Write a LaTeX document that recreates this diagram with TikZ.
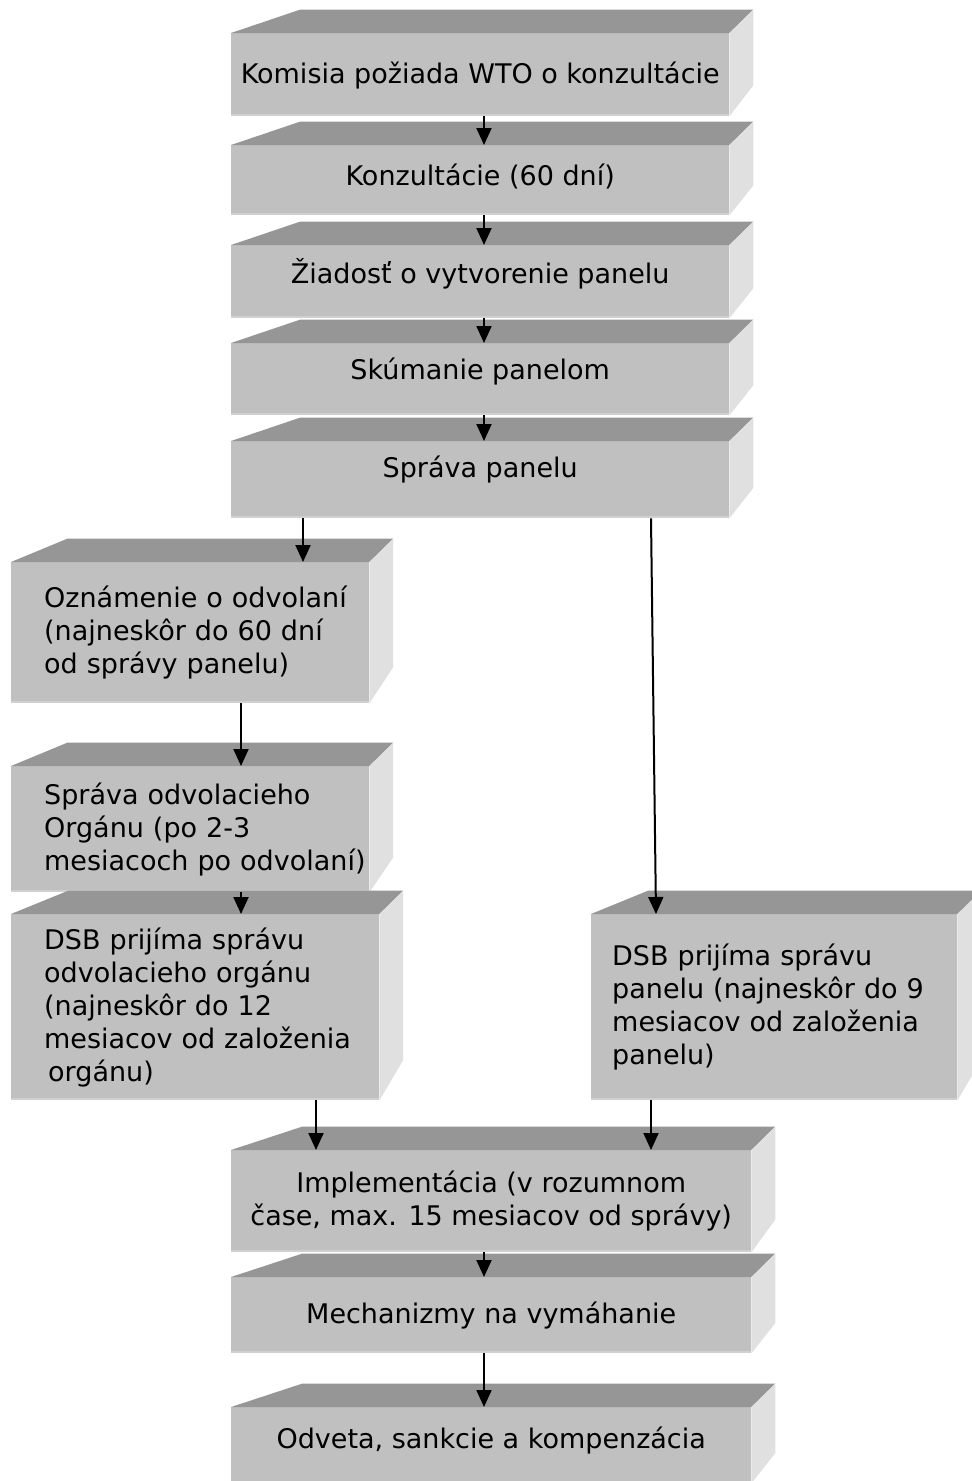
\documentclass[tikz,border=0pt]{standalone}
\usepackage{fontspec}
\setmainfont{DejaVu Sans}
\usetikzlibrary{calc,arrows.meta}

\definecolor{frontgray}{RGB}{192,192,192}
\definecolor{topgray}{RGB}{150,150,150}
\definecolor{sidegray}{RGB}{224,224,224}
\definecolor{edgegray}{RGB}{208,208,208}

% top and side faces of a box drawn in perspective
\newcommand{\solid}[1]{%
    \coordinate (#1-v) at ($(#1.north east)+(262pt,257pt)$);
    \fill[topgray] (#1.north west) -- (#1.north east)
        -- ($(#1.north east)!0.091!(#1-v)$) -- ($(#1.north west)!0.091!(#1-v)$) -- cycle;
    \fill[sidegray] (#1.north east) -- ($(#1.north east)!0.091!(#1-v)$)
        -- ($(#1.south east)!0.091!(#1-v)$) -- (#1.south east) -- cycle;
    \draw[edgegray, line width=2pt] ([yshift=1pt]#1.south west) -- ([yshift=1pt]#1.south east);
}

\begin{document}
\begin{tikzpicture}[
            x=1pt, y=-1pt,
            front/.style={fill=frontgray, anchor=north west, inner sep=0pt,
                font=\fontsize{27}{33}\selectfont},
            leftbox/.style={front, align=left},
            arr/.style={draw, line width=2pt, -{Triangle[width=15pt,length=17pt]}}
        ]
            \clip (0,0) rectangle (972,1481);

            \node[front, minimum width=498pt, minimum height=83pt, text height=24pt] (komisia) at (231,33) {Komisia požiada WTO o konzultácie};
            \node[front, minimum width=498pt, minimum height=70pt, text depth=12pt] (konzult) at (231,145) {Konzultácie (60 dní)};
            \node[front, minimum width=498pt, minimum height=73pt, text depth=22pt] (ziadost) at (231,245) {Žiadosť o vytvorenie panelu};
            \node[front, minimum width=498pt, minimum height=72pt, text depth=22pt] (skuman) at (231,343) {Skúmanie panelom};
            \node[front, minimum width=498pt, minimum height=77pt, text depth=27pt] (sprava) at (231,441) {Správa panelu};

            \node[leftbox, minimum width=358pt, minimum height=141pt, text width=292pt] (oznam) at (11,562)
                {\mbox{Oznámenie o odvolaní}\\\mbox{(najneskôr do 60 dní}\\od správy panelu)};
            \node[leftbox, minimum width=358pt, minimum height=126pt, text width=292pt] (odvol) at (11,766)
                {Správa odvolacieho\\Orgánu (po 2-3\\\mbox{mesiacoch po odvolaní)}};
            \node[leftbox, minimum width=368pt, minimum height=186pt, text width=302pt] (dsbodv) at (11,914)
                {DSB prijíma správu\\odvolacieho orgánu\\(najneskôr do 12\\\mbox{mesiacov od založenia}\\\hspace*{4pt}orgánu)};
            \node[leftbox, minimum width=366pt, minimum height=186pt, text width=324pt] (dsbpan) at (591,914)
                {DSB prijíma správu\\\mbox{panelu (najneskôr do 9}\\mesiacov od založenia\\panelu)};

            \node[front, align=center, minimum width=520pt, minimum height=102pt] (implem) at (231,1150)
                {Implementácia (v rozumnom\\čase, max. 15 mesiacov od správy)};
            \node[front, minimum width=520pt, minimum height=76pt] (mechan) at (231,1277) {Mechanizmy na vymáhanie};
            \node[front, minimum width=520pt, minimum height=76pt, text depth=16pt] (odveta) at (231,1407) {Odveta, sankcie a kompenzácia};

            \foreach \n in {komisia,konzult,ziadost,skuman,sprava,oznam,odvol,dsbodv,dsbpan,implem,mechan,odveta}
                {\solid{\n}}

            \draw[arr] ([xshift=253pt]komisia.south west) -- ([xshift=253pt]konzult.north west);
            \draw[arr] ([xshift=253pt]konzult.south west) -- ([xshift=253pt]ziadost.north west);
            \draw[arr] ([xshift=253pt]ziadost.south west) -- ([xshift=253pt]skuman.north west);
            \draw[arr] ([xshift=253pt]skuman.south west) -- ([xshift=253pt]sprava.north west);

            \draw[arr] ([xshift=72pt]sprava.south west) -- ([xshift=292pt]oznam.north west);
            \draw[arr] ([xshift=420pt]sprava.south west) -- ([xshift=65pt]dsbpan.north west);
            \draw[arr] ([xshift=230pt]oznam.south west) -- ([xshift=230pt]odvol.north west);
            \draw[arr] ([xshift=230pt]odvol.south west) -- ([xshift=230pt]dsbodv.north west);

            \draw[arr] ([xshift=305pt]dsbodv.south west) -- ([xshift=85pt]implem.north west);
            \draw[arr] ([xshift=60pt]dsbpan.south west) -- ([xshift=420pt]implem.north west);
            \draw[arr] ([xshift=253pt]implem.south west) -- ([xshift=253pt]mechan.north west);
            \draw[arr] ([xshift=253pt]mechan.south west) -- ([xshift=253pt]odveta.north west);
        \end{tikzpicture}
\end{document}
